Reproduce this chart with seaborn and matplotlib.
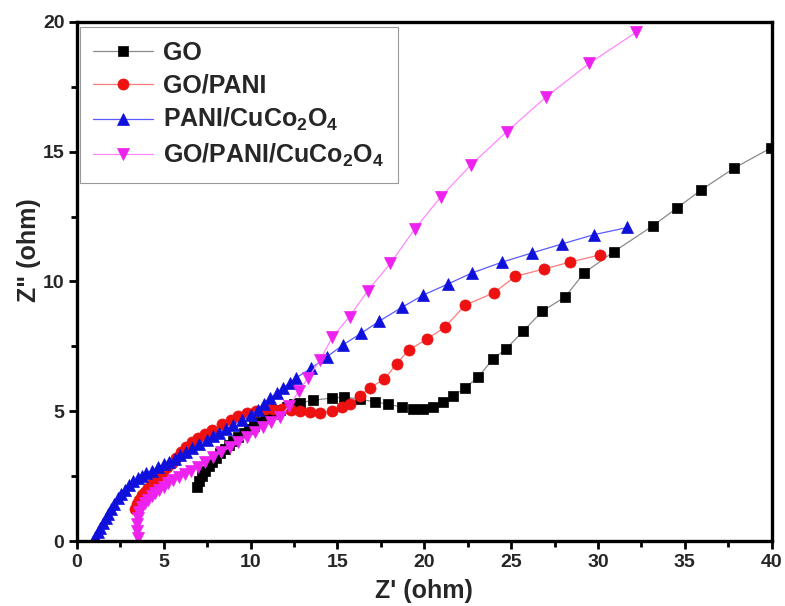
import matplotlib
matplotlib.use("Agg")
import matplotlib.pyplot as plt
import seaborn as sns
from matplotlib.ticker import MultipleLocator

# Nyquist data: real part Z' and imaginary part Z'' (ohm)
go_x = [6.9, 7.05, 7.2, 7.4, 7.6, 7.8, 8.0, 8.25, 8.5, 8.75, 9.0, 9.3, 9.6, 9.9,
        10.2, 10.55, 10.9, 11.3, 11.7, 12.1, 12.5, 12.85, 13.6, 14.7, 15.4, 16.3,
        17.15, 17.9, 18.7, 19.35, 19.9, 20.5, 21.05, 21.65, 22.35, 23.1, 23.95,
        24.7, 25.7, 26.8, 28.1, 29.2, 30.9, 33.15, 34.55, 35.95, 37.85, 39.95]
go_y = [2.08, 2.3, 2.5, 2.7, 2.88, 3.05, 3.2, 3.38, 3.55, 3.7, 3.85, 4.0, 4.15, 4.3,
        4.45, 4.6, 4.75, 4.9, 5.05, 5.17, 5.27, 5.32, 5.43, 5.51, 5.55, 5.47,
        5.36, 5.28, 5.16, 5.09, 5.09, 5.16, 5.36, 5.59, 5.9, 6.32, 7.01,
        7.4, 8.09, 8.86, 9.4, 10.33, 11.14, 12.14, 12.83, 13.53, 14.37, 15.14]

gp_x = [3.35, 3.45, 3.6, 3.75, 3.9, 4.1, 4.3, 4.5, 4.7, 4.95, 5.2, 5.45, 5.7, 6.0,
        6.3, 6.6, 6.95, 7.35, 7.8, 8.35, 8.85, 9.3, 9.8, 10.3, 10.8, 11.3, 11.8,
        12.3, 12.85, 13.4, 14.0, 14.7, 15.25, 15.7, 16.3, 16.85, 17.7, 18.4, 19.1,
        20.15, 21.2, 22.35, 24.0, 25.25, 26.9, 28.4, 30.1]
gp_y = [1.25, 1.42, 1.6, 1.76, 1.9, 2.05, 2.2, 2.35, 2.5, 2.67, 2.85, 3.02, 3.2, 3.42,
        3.62, 3.8, 3.97, 4.13, 4.28, 4.5, 4.68, 4.82, 4.95, 5.03, 5.08, 5.1, 5.1,
        5.07, 5.03, 4.97, 4.93, 5.0, 5.15, 5.3, 5.6, 5.9, 6.24, 6.82, 7.36,
        7.78, 8.25, 9.09, 9.56, 10.2, 10.48, 10.75, 11.02]

pc_x = [0.95, 1.05, 1.2, 1.35, 1.5, 1.65, 1.8, 1.97, 2.15, 2.35, 2.55, 2.76, 3.0, 3.25,
        3.5, 3.75, 4.0, 4.3, 4.65, 5.0, 5.3, 5.65, 5.95, 6.3, 6.65, 7.05, 7.5, 7.85,
        8.2, 8.6, 9.0, 9.5, 10.0, 10.4, 10.75, 11.1, 11.5, 11.87, 12.25, 12.6, 13.45,
        14.4, 15.3, 16.35, 17.4, 18.7, 19.95, 21.35, 22.75, 24.5, 26.2, 27.9, 29.75, 31.7]
pc_y = [0.02, 0.15, 0.35, 0.52, 0.7, 0.88, 1.05, 1.25, 1.45, 1.65, 1.82, 1.98, 2.15, 2.3,
        2.42, 2.52, 2.62, 2.72, 2.84, 2.96, 3.06, 3.17, 3.3, 3.43, 3.58, 3.73, 3.9, 4.04,
        4.18, 4.32, 4.48, 4.66, 4.86, 5.05, 5.27, 5.5, 5.7, 5.9, 6.1, 6.28, 6.65,
        7.1, 7.55, 8.0, 8.47, 9.0, 9.48, 9.9, 10.33, 10.75, 11.1, 11.44, 11.8, 12.08]

gpc_x = [3.5, 3.45, 3.45, 3.5, 3.6, 3.75, 3.9, 4.1, 4.3, 4.5, 4.75, 5.0, 5.25, 5.55,
         5.85, 6.2, 6.55, 6.95, 7.4, 7.85, 8.3, 8.8, 9.3, 9.8, 10.25, 10.7, 11.2, 11.7,
         12.2, 12.8, 13.3, 14.0, 14.7, 15.7, 16.75, 18.05, 19.45, 20.95, 22.7, 24.75,
         27.0, 29.5, 32.2]
gpc_y = [0.12, 0.38, 0.65, 0.9, 1.12, 1.3, 1.46, 1.6, 1.73, 1.85, 1.98, 2.1, 2.23, 2.35,
         2.48, 2.6, 2.72, 2.85, 3.04, 3.24, 3.43, 3.62, 3.8, 4.0, 4.2, 4.39, 4.58, 4.78,
         5.2, 5.8, 6.28, 6.97, 7.85, 8.65, 9.65, 10.7, 12.02, 13.26, 14.5, 15.77,
         17.1, 18.4, 19.6]

labels = ["GO", "GO/PANI", r"PANI/CuCo$_2$O$_4$", r"GO/PANI/CuCo$_2$O$_4$"]

sns.set_theme(style="ticks")
plt.rcParams["font.family"] = ["Liberation Sans", "DejaVu Sans"]
plt.rcParams["font.weight"] = "bold"
plt.rcParams["mathtext.fontset"] = "custom"
plt.rcParams["mathtext.default"] = "regular"

fig = plt.figure(figsize=(7.85, 6.06), dpi=100)
ax = fig.add_axes([0.098, 0.107, 0.885, 0.857])

series = [
    (go_x, go_y, labels[0], "#8a8a8a", "#000000", "s", 6.5),
    (gp_x, gp_y, labels[1], "#ff7a7a", "#ee1111", "o", 8),
    (pc_x, pc_y, labels[2], "#5a5aff", "#1010dd", "^", 8.5),
    (gpc_x, gpc_y, labels[3], "#ff88ff", "#ee22ee", "v", 8.5),
]
for xs, ys, lab, lc, mc, mk, ms in series:
    sns.lineplot(x=xs, y=ys, ax=ax, sort=False, estimator=None, color=lc,
                 linewidth=0.9, marker=mk, markersize=ms, markerfacecolor=mc,
                 markeredgecolor=mc, markeredgewidth=0.5, label=lab)

ax.set_xlim(0, 40)
ax.set_ylim(0, 20)
ax.xaxis.set_major_locator(MultipleLocator(5))
ax.xaxis.set_minor_locator(MultipleLocator(2.5))
ax.yaxis.set_major_locator(MultipleLocator(5))
ax.yaxis.set_minor_locator(MultipleLocator(2.5))
ax.tick_params(which="major", direction="out", length=6, width=2, labelsize=14,
               top=False, right=False, pad=3, color="black")
ax.tick_params(which="minor", direction="out", length=4, width=2,
               top=False, right=False, color="black")
for lab in ax.get_xticklabels() + ax.get_yticklabels():
    lab.set_fontweight("bold")
for sp in ax.spines.values():
    sp.set_linewidth(2.4)
    sp.set_color("black")

ax.set_xlabel("Z' (ohm)", fontsize=18, fontweight="bold", labelpad=6)
ax.set_ylabel('Z" (ohm)', fontsize=18, fontweight="bold")
ax.yaxis.set_label_coords(-0.052, 0.56)

leg = ax.legend(loc="upper left", bbox_to_anchor=(0.004, 0.99), frameon=True,
                fancybox=False, edgecolor="#9a9a9a", framealpha=1,
                prop={"weight": "bold", "size": 18}, handlelength=2.4,
                handletextpad=0.4, labelspacing=0.35, borderpad=0.55,
                borderaxespad=0)
leg.get_frame().set_linewidth(0.8)

fig.savefig("out.png", dpi=100)
